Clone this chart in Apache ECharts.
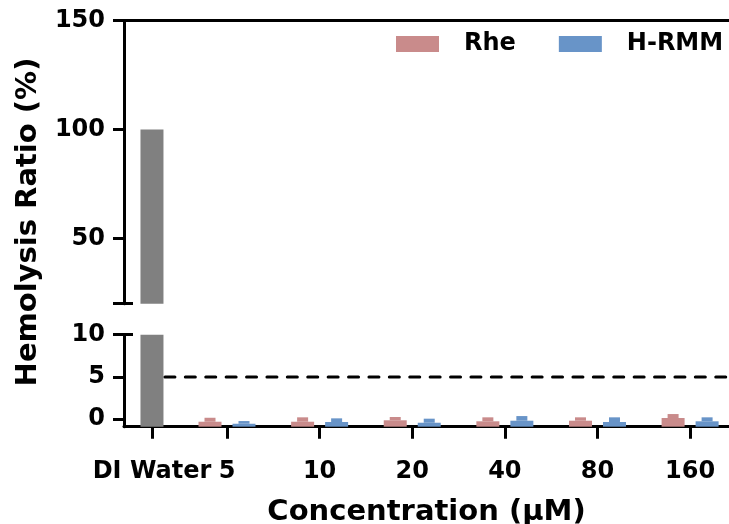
<!DOCTYPE html>
<html><head><meta charset="utf-8">
<script src="https://cdn.jsdelivr.net/npm/echarts@6/dist/echarts.min.js"></script>
<style>html,body{margin:0;padding:0;background:#fff}#c{width:729px;height:524px}</style>
</head><body><div id="c"></div>
<script>
// ---- data ----
const categories = ['DI Water', '5', '10', '20', '40', '80', '160'];
const diWater = [100];
const rhe     = [-0.31, -0.31, -0.14, -0.26, -0.19, 0.13];
const rheErr  = [0.47, 0.52, 0.39, 0.47, 0.40, 0.47];
const hrmm    = [-0.55, -0.34, -0.43, -0.19, -0.34, -0.26];
const hrmmErr = [0.32, 0.43, 0.48, 0.55, 0.55, 0.47];
const upperTicks = [50, 100, 150];
const lowerTicks = [0, 5, 10];
const refValue = 5;

// ---- layout ----
const DI_POS = 0.19;           // DI Water sits closer to the first concentration
const X_MIN = -0.112, X_MAX = 6.42;
const UP_MIN = 20, UP_MAX = 150;
const LO_MIN = -0.9, LO_MAX = 10;
const REF_START = 0.33;
const catPos = categories.map((c, i) => i === 0 ? DI_POS : i);
const FONT = 'DejaVu Sans';
const C_GRAY = '#808080', C_RHE = '#C98B8B', C_HRMM = '#6894C8';

function makeRender(yMin, yMax, barW, capW, dx) {
  return function (params, api) {
    const x = api.value(0);
    const v = Math.min(api.value(1), yMax);
    const e = api.value(2) || 0;
    const p0 = api.coord([x, yMin]);
    const p1 = api.coord([x, v]);
    const cx = p0[0] + dx;
    const fill = api.visual('color');
    const children = [{ type: 'rect', shape: { x: cx - barW / 2, y: p1[1], width: barW, height: p0[1] - p1[1] }, style: { fill } }];
    if (e > 0) {
      const p2 = api.coord([x, Math.min(v + e, yMax)]);
      children.push({ type: 'rect', shape: { x: cx - capW / 2, y: p2[1], width: capW, height: p1[1] - p2[1] }, style: { fill } });
    }
    return { type: 'group', children };
  };
}

const axisLineStyle = { color: '#000', width: 3 };
const tickLabelStyle = { color: '#000', fontFamily: FONT, fontWeight: 'bold', fontSize: 24 };
const labelFor = v => { const i = catPos.findIndex(p => Math.abs(p - v) < 1e-6); return i >= 0 ? categories[i] : ''; };

const chart = echarts.init(document.getElementById('c'), null, { renderer: 'canvas' });
chart.setOption({
  animation: false,
  backgroundColor: '#fff',
  grid: [
    { left: 124, right: 0, top: 20.7, height: 283, containLabel: false, outerBoundsMode: 'none' },
    { left: 124, right: 0, top: 334.7, height: 92, containLabel: false, outerBoundsMode: 'none' }
  ],
  legend: {
    data: ['Rhe', 'H-RMM'],
    orient: 'horizontal',
    left: 396, top: 32, width: 333, padding: 0,
    icon: 'rect', itemWidth: 43, itemHeight: 16, itemGap: 43,
    textStyle: { color: '#000', fontFamily: FONT, fontWeight: 'bold', fontSize: 24, padding: [0, 0, 0, 20] }
  },
  xAxis: [
    { gridIndex: 0, type: 'value', min: X_MIN, max: X_MAX, position: 'top',
      axisLine: { show: true, onZero: false, lineStyle: axisLineStyle },
      axisTick: { show: false }, axisLabel: { show: false }, splitLine: { show: false } },
    { gridIndex: 1, type: 'value', min: X_MIN, max: X_MAX, position: 'bottom',
      axisLine: { show: true, onZero: false, lineStyle: axisLineStyle },
      axisTick: { show: true, length: 12, lineStyle: axisLineStyle, customValues: catPos },
      axisLabel: Object.assign({ customValues: catPos, formatter: labelFor, margin: 33 }, tickLabelStyle),
      splitLine: { show: false },
      name: 'Concentration (µM)', nameLocation: 'middle', nameGap: 71,
      nameTextStyle: { color: '#000', fontFamily: FONT, fontWeight: 'bold', fontSize: 29 } }
  ],
  yAxis: [
    { gridIndex: 0, type: 'value', min: UP_MIN, max: UP_MAX, position: 'left',
      axisLine: { show: true, onZero: false, lineStyle: axisLineStyle },
      axisTick: { show: true, length: 11, lineStyle: axisLineStyle, customValues: [UP_MIN].concat(upperTicks) },
      axisLabel: Object.assign({ customValues: upperTicks, margin: 19 }, tickLabelStyle),
      splitLine: { show: false } },
    { gridIndex: 1, type: 'value', min: LO_MIN, max: LO_MAX, position: 'left',
      axisLine: { show: true, onZero: false, lineStyle: axisLineStyle },
      axisTick: { show: true, length: 11, lineStyle: axisLineStyle, customValues: lowerTicks },
      axisLabel: Object.assign({ customValues: lowerTicks, margin: 19 }, tickLabelStyle),
      splitLine: { show: false } },
    { gridIndex: 0, type: 'value', min: UP_MIN, max: UP_MAX, position: 'left', offset: 0,
      axisLine: { show: false, onZero: false },
      axisTick: { show: true, inside: true, length: 9, lineStyle: axisLineStyle, customValues: [UP_MIN] },
      axisLabel: { show: false }, splitLine: { show: false } },
    { gridIndex: 1, type: 'value', min: LO_MIN, max: LO_MAX, position: 'left', offset: 0,
      axisLine: { show: false, onZero: false },
      axisTick: { show: true, inside: true, length: 9, lineStyle: axisLineStyle, customValues: [LO_MAX] },
      axisLabel: { show: false }, splitLine: { show: false } }
  ],
  graphic: [{
    type: 'text', x: 28, y: 222, rotation: Math.PI / 2,
    style: { text: 'Hemolysis Ratio (%)', fill: '#000', font: 'bold 29px "DejaVu Sans"',
      align: 'center', verticalAlign: 'middle', textAlign: 'center', textVerticalAlign: 'middle' }
  }],
  series: [
    { name: 'DI Water', type: 'custom', xAxisIndex: 1, yAxisIndex: 1,
      itemStyle: { color: C_GRAY }, encode: { x: 0, y: 1 },
      renderItem: makeRender(LO_MIN, LO_MAX, 23, 0, 0),
      data: diWater.map(v => [catPos[0], v, 0]) },
    { name: 'DI Water', type: 'custom', xAxisIndex: 0, yAxisIndex: 0,
      itemStyle: { color: C_GRAY }, encode: { x: 0, y: 1 },
      renderItem: makeRender(UP_MIN, UP_MAX, 23, 0, 0),
      data: diWater.map(v => [catPos[0], v, 0]) },
    { name: 'ref', type: 'line', xAxisIndex: 1, yAxisIndex: 1, symbol: 'none', silent: true,
      lineStyle: { color: '#000', width: 3, type: [10, 10.4], cap: 'round' },
      data: [[REF_START, refValue], [X_MAX, refValue]] },
    { name: 'Rhe', type: 'custom', xAxisIndex: 1, yAxisIndex: 1,
      itemStyle: { color: C_RHE }, encode: { x: 0, y: 1 },
      renderItem: makeRender(LO_MIN, LO_MAX, 23, 11, -17),
      data: rhe.map((v, i) => [catPos[i + 1], v, rheErr[i]]) },
    { name: 'H-RMM', type: 'custom', xAxisIndex: 1, yAxisIndex: 1,
      itemStyle: { color: C_HRMM }, encode: { x: 0, y: 1 },
      renderItem: makeRender(LO_MIN, LO_MAX, 23, 11, 17),
      data: hrmm.map((v, i) => [catPos[i + 1], v, hrmmErr[i]]) }
  ]
});
</script></body></html>
